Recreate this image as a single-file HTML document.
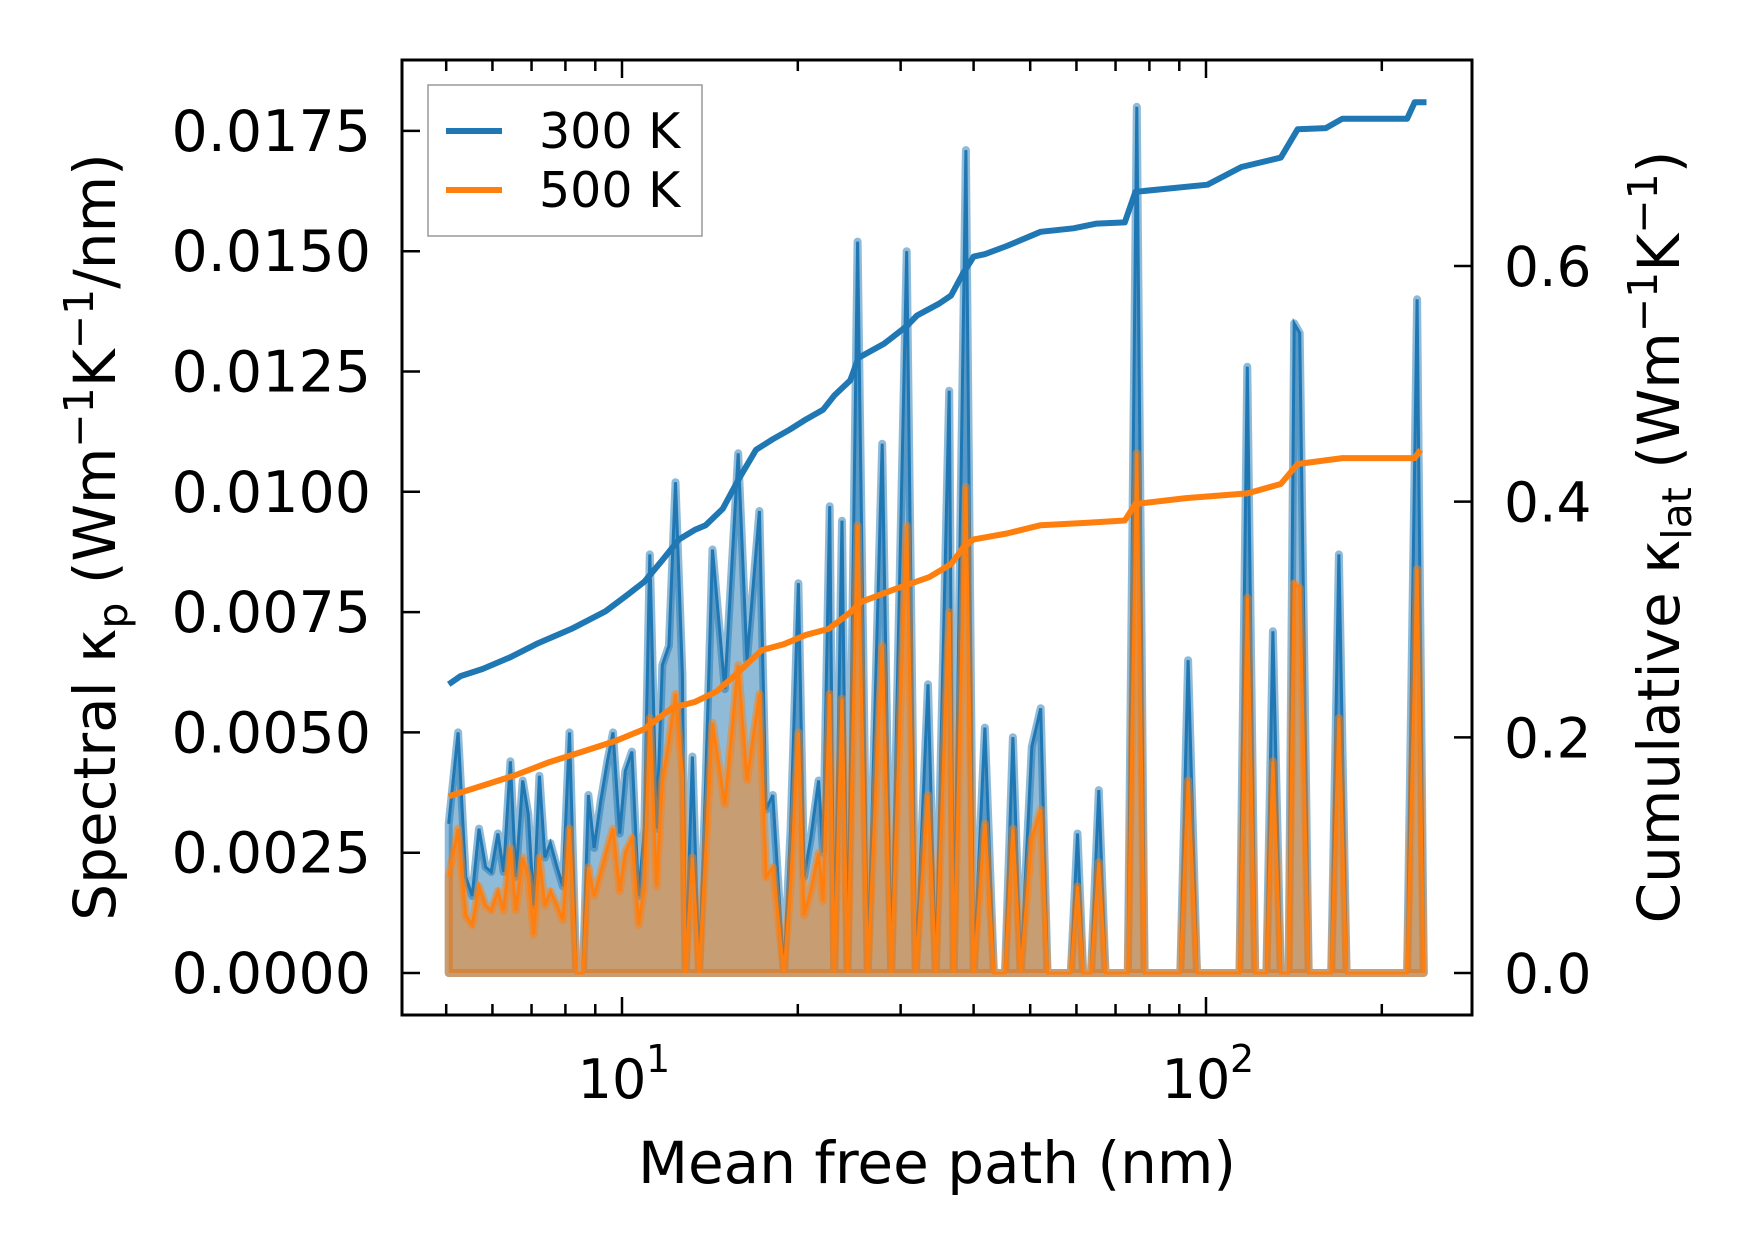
<!DOCTYPE html>
<html><head><meta charset="utf-8"><style>
html,body{margin:0;padding:0;background:#fff;}
svg{display:block;font-family:"DejaVu Sans","Liberation Sans",sans-serif;}
</style></head><body>
<svg id="chart" width="1753" height="1254" viewBox="0 0 1753 1254" xmlns="http://www.w3.org/2000/svg">
<defs><clipPath id="clip"><rect x="402" y="60" width="1070" height="955"/></clipPath></defs>
<g id="plot" clip-path="url(#clip)"></g>
<g id="axes"></g>
</svg>
<script>
const mfp = [5.05,5.24,5.40,5.54,5.69,5.84,5.97,6.13,6.27,6.44,6.58,6.76,6.91,7.06,7.22,7.38,7.54,7.74,7.92,8.13,8.35,8.57,8.76,8.96,9.20,9.44,9.65,9.91,10.13,10.40,10.68,10.92,11.16,11.46,11.72,12.03,12.35,12.69,12.85,13.20,13.55,13.91,14.29,15.00,15.81,16.37,17.19,17.65,18.12,18.93,19.44,20.05,20.50,21.04,21.71,22.09,22.68,23.09,23.81,24.33,25.32,26.35,27.90,28.90,30.73,31.84,33.42,34.46,36.33,36.98,38.81,40.02,41.82,43.33,45.27,46.70,48.16,50.32,52.12,53.52,58.69,60.26,61.61,63.54,65.52,67.29,73.48,76.11,78.49,90.36,93.19,96.53,114.1,117.7,121.4,126.9,130.2,134.3,138.5,141.6,144.7,149.9,163.8,168.9,174.1,221.0,229.9,236.0];
const spec300 = [0.0031,0.0050,0.0020,0.0016,0.0030,0.0022,0.0021,0.0029,0.0021,0.0044,0.0020,0.0040,0.0033,0.0014,0.0041,0.0024,0.0027,0.0022,0.0018,0.0050,0.0000,0.0000,0.0037,0.0026,0.0036,0.0044,0.0050,0.0029,0.0042,0.0046,0.0016,0.0030,0.0087,0.0030,0.0064,0.0068,0.0102,0.0062,0.0000,0.0045,0.0000,0.0040,0.0088,0.0059,0.0108,0.0065,0.0096,0.0034,0.0037,0.0000,0.0030,0.0081,0.0020,0.0028,0.0040,0.0025,0.0097,0.0000,0.0094,0.0000,0.0152,0.0000,0.0110,0.0000,0.0150,0.0000,0.0060,0.0000,0.0121,0.0000,0.0171,0.0000,0.0051,0.0000,0.0000,0.0049,0.0000,0.0047,0.0055,0.0000,0.0000,0.0029,0.0000,0.0000,0.0038,0.0000,0.0000,0.0180,0.0000,0.0000,0.0065,0.0000,0.0000,0.0126,0.0000,0.0000,0.0071,0.0000,0.0000,0.0135,0.0133,0.0000,0.0000,0.0087,0.0000,0.0000,0.0140,0.0000];
const spec500 = [0.0020,0.0030,0.0012,0.0010,0.0018,0.0014,0.0013,0.0017,0.0013,0.0026,0.0013,0.0024,0.0020,0.0008,0.0024,0.0014,0.0017,0.0014,0.0011,0.0030,0.0000,0.0000,0.0022,0.0016,0.0021,0.0026,0.0030,0.0017,0.0025,0.0028,0.0010,0.0018,0.0053,0.0018,0.0040,0.0048,0.0058,0.0041,0.0000,0.0024,0.0000,0.0025,0.0052,0.0035,0.0064,0.0040,0.0058,0.0020,0.0022,0.0000,0.0018,0.0050,0.0012,0.0017,0.0025,0.0015,0.0058,0.0000,0.0057,0.0000,0.0093,0.0000,0.0068,0.0000,0.0093,0.0000,0.0037,0.0000,0.0075,0.0000,0.0101,0.0000,0.0031,0.0000,0.0000,0.0030,0.0000,0.0028,0.0034,0.0000,0.0000,0.0018,0.0000,0.0000,0.0023,0.0000,0.0000,0.0108,0.0000,0.0000,0.0040,0.0000,0.0000,0.0078,0.0000,0.0000,0.0044,0.0000,0.0000,0.0081,0.0080,0.0000,0.0000,0.0053,0.0000,0.0000,0.0084,0.0000];
const cumX300 = [5.05,5.29,5.77,6.44,7.19,8.19,9.37,10.22,10.92,11.66,12.52,13.32,13.91,14.88,15.88,16.96,18.12,19.35,20.68,22.09,23.09,24.6,25.4,28.1,30.73,32.0,34.9,36.6,38.4,40.0,41.8,45.6,52.1,59.3,65.0,72.6,75.7,100.6,115.0,134.3,143.5,160.4,171.2,221.0,227.7,238.5];
const cum300 = [0.245,0.252,0.258,0.268,0.280,0.292,0.307,0.321,0.332,0.349,0.368,0.376,0.380,0.394,0.420,0.444,0.453,0.461,0.470,0.478,0.490,0.503,0.522,0.534,0.549,0.558,0.568,0.575,0.594,0.608,0.610,0.617,0.629,0.632,0.636,0.637,0.663,0.669,0.684,0.692,0.716,0.717,0.725,0.725,0.739,0.739];
const cumX500 = [5.05,5.77,6.58,7.51,8.57,9.76,10.92,12.19,13.32,14.53,15.88,17.35,18.93,20.68,22.59,24.6,25.7,29.4,33.6,36.6,38.4,40.0,45.6,52.1,62.2,72.6,75.7,92.4,117.7,134.3,143.5,171.2,227.7,233.0];
const cum500 = [0.150,0.159,0.168,0.179,0.188,0.197,0.207,0.225,0.230,0.239,0.256,0.274,0.279,0.287,0.292,0.306,0.315,0.326,0.336,0.347,0.361,0.368,0.373,0.380,0.382,0.384,0.398,0.403,0.407,0.415,0.432,0.437,0.437,0.444];
const leftTicks = [0,0.0025,0.005,0.0075,0.01,0.0125,0.015,0.0175];
const leftTickLabels = ["0.0000","0.0025","0.0050","0.0075","0.0100","0.0125","0.0150","0.0175"];
const rightTicks = [0,0.2,0.4,0.6];
const rightTickLabels = ["0.0","0.2","0.4","0.6"];

const L=402,R=1472,T=60,B=1015;
const X = v => 622 + (Math.log10(v)-1)*584;
const YL = v => 973 - v/0.0025*120.3;
const YR = v => 973 - v/0.6*707;
const NS="http://www.w3.org/2000/svg";
function mk(tag, attrs, parent){const e=document.createElementNS(NS,tag);for(const k in attrs)e.setAttribute(k,attrs[k]);parent.appendChild(e);return e;}
const plot=document.getElementById('plot'), axes=document.getElementById('axes');

function spectral(vals,color,name){
  let d="M"+X(mfp[0])+","+YL(0);
  mfp.forEach((m,i)=>{d+=" L"+X(m).toFixed(1)+","+YL(vals[i]).toFixed(1);});
  d+=" L"+X(mfp[mfp.length-1])+","+YL(0)+" Z";
  const f=mk('path',{d:d,fill:color,'fill-opacity':0.5,stroke:color,'stroke-opacity':0.5,'stroke-width':8,'stroke-linejoin':'round'},plot);
  
  
  const pts=mfp.map((m,i)=>X(m).toFixed(1)+","+YL(vals[i]).toFixed(1)).join(" ");
  const l=mk('polyline',{points:pts,fill:'none',stroke:color,'stroke-width':3},plot);
  
  
}
spectral(spec300,'#1f77b4','spectral-300k');
spectral(spec500,'#ff7f0e','spectral-500k');
function cum(xs,vs,color,name){
  const pts=xs.map((m,i)=>X(m).toFixed(1)+","+YR(vs[i]).toFixed(1)).join(" ");
  const l=mk('polyline',{points:pts,fill:'none',stroke:color,'stroke-width':6,'stroke-linejoin':'round'},plot);
  
  
}
cum(cumX300,cum300,'#1f77b4','cumulative-300k');
cum(cumX500,cum500,'#ff7f0e','cumulative-500k');

const fr=mk('rect',{x:L,y:T,width:R-L,height:B-T,fill:'none',stroke:'#000','stroke-width':3},axes);


leftTicks.forEach((v,i)=>{
  const y=YL(v);
  mk('line',{x1:L,x2:L+18,y1:y,y2:y,stroke:'#000','stroke-width':2.5},axes);
  const t=mk('text',{x:371,y:y+20,'text-anchor':'end','font-size':57},axes);
  t.textContent=leftTickLabels[i];
  
  
});
rightTicks.forEach((v,i)=>{
  const y=YR(v);
  mk('line',{x1:R-18,x2:R,y1:y,y2:y,stroke:'#000','stroke-width':2.5},axes);
  const t=mk('text',{x:1504,y:y+20,'font-size':55},axes);
  t.textContent=rightTickLabels[i];
  
  
});
for(let dec=0;dec<=2;dec++){
  for(let k=1;k<10;k++){
    const v=k*Math.pow(10,dec);const x=X(v);
    if(x<L||x>R)continue;
    const len=k===1?18:11;
    mk('line',{x1:x,x2:x,y1:B,y2:B-len,stroke:'#000','stroke-width':2.5},axes);
    mk('line',{x1:x,x2:x,y1:T,y2:T+len,stroke:'#000','stroke-width':2.5},axes);
  }
}
[[10,"1"],[100,"2"]].forEach(([v,e])=>{
  const t=mk('text',{x:X(v)-10,y:1098,'text-anchor':'middle','font-size':54},axes);
  t.textContent="10";
  
  
  const s=mk('text',{x:X(v)+24,y:1072,'font-size':38},axes);
  s.textContent=e;
  
  
});
</script>
<svg style="position:absolute;left:0;top:0" width="1753" height="1254" viewBox="0 0 1753 1254" xmlns="http://www.w3.org/2000/svg" font-family="DejaVu Sans, Liberation Sans, sans-serif">
<text x="937" y="1183" text-anchor="middle" font-size="58">Mean free path (nm)</text>
<text transform="translate(115,537) rotate(-90)" text-anchor="middle" font-size="58">Spectral κ<tspan font-size="41" dy="12">p</tspan><tspan dy="-12"> (Wm</tspan><tspan font-size="41" dy="-22">−1</tspan><tspan dy="22">K</tspan><tspan font-size="41" dy="-22">−1</tspan><tspan dy="22">/nm)</tspan></text>
<text transform="translate(1679,537) rotate(-90)" text-anchor="middle" font-size="58">Cumulative κ<tspan font-size="41" dy="12">lat</tspan><tspan dy="-12"> (Wm</tspan><tspan font-size="41" dy="-22">−1</tspan><tspan dy="22">K</tspan><tspan font-size="41" dy="-22">−1</tspan><tspan dy="22">)</tspan></text>
<g>
<rect x="428" y="85" width="274" height="151" fill="#fff" fill-opacity="0.8" stroke="#999" stroke-width="1.5"/>
<line x1="446" x2="502" y1="131" y2="131" stroke="#1f77b4" stroke-width="6"/>
<text x="539" y="148" font-size="49">300 K</text>
<line x1="446" x2="502" y1="190" y2="190" stroke="#ff7f0e" stroke-width="6"/>
<text x="539" y="207" font-size="49">500 K</text>
</g>
</svg>
</body></html>
